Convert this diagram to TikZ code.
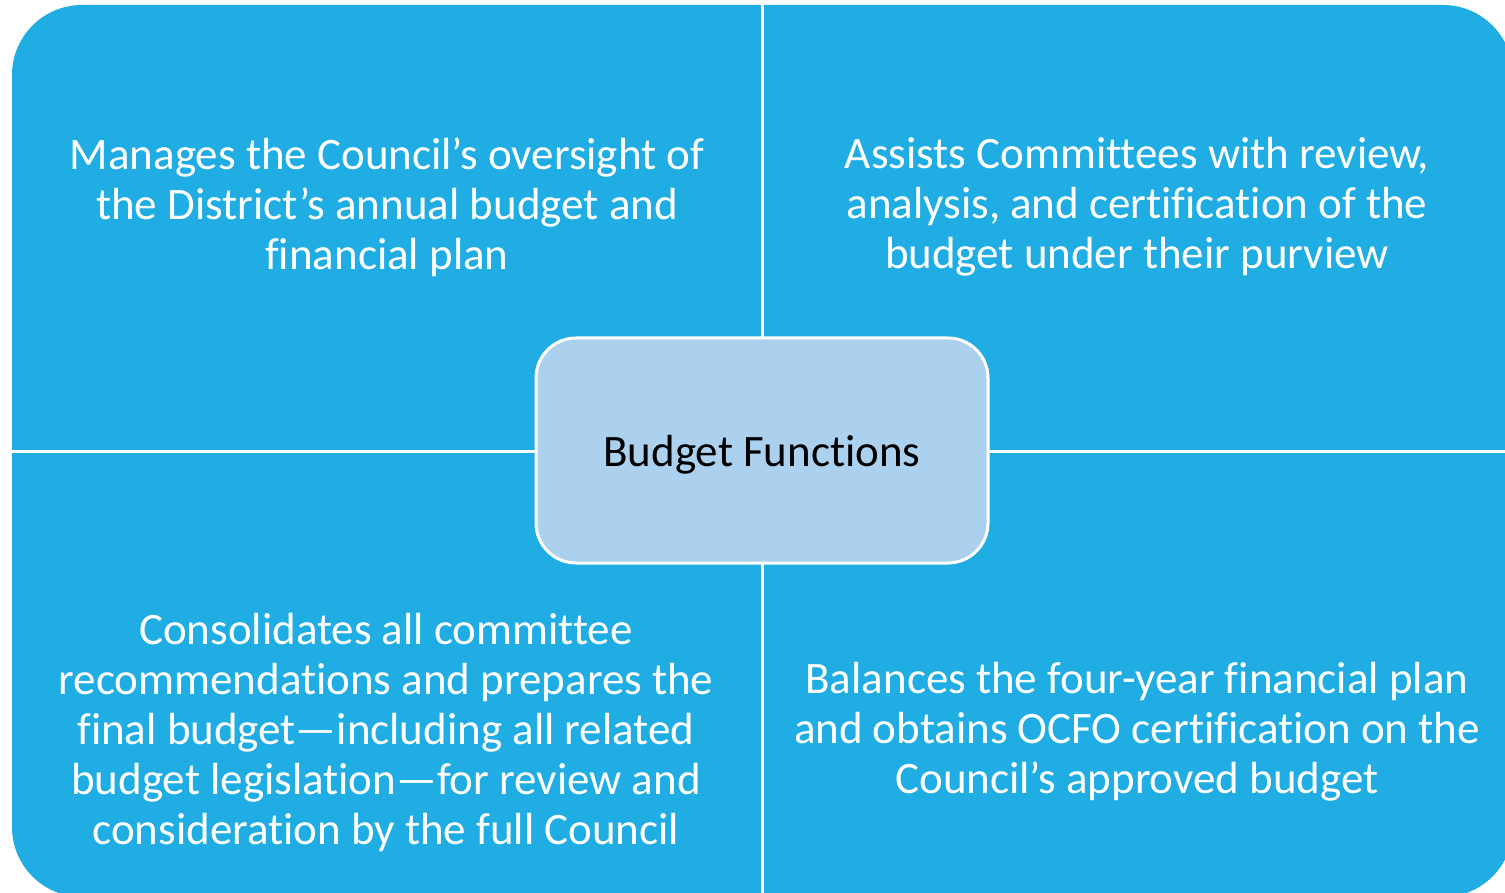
\documentclass[tikz,border=0pt]{standalone}
\usepackage{fontspec}
\setmainfont{Carlito}[Ligatures=NoCommon,RawFeature={-liga;-clig;-dlig;-rlig}]
\definecolor{quadblue}{HTML}{1FADE3}
\definecolor{hubblue}{HTML}{ABD1EE}
\begin{document}
\begin{tikzpicture}[x=1pt,y=-1pt,
  quadtext/.style={text=white,align=center,font=\fontsize{45}{50}\selectfont,inner sep=0pt},
  hub/.style={draw=white,line width=3pt,fill=hubblue,rounded corners=40pt,
    minimum width=452pt,minimum height=225pt,text=black,text depth=0pt,font=\fontsize{45}{50}\selectfont},
  divider/.style={draw=white,line width=3pt}]
\useasboundingbox (0,0) rectangle (1505,893);
\begin{scope}
\clip (0,0) rectangle (1505,893);
\fill[quadblue,rounded corners=70pt] (12,5) rectangle (1513,897);
\coordinate (vtop) at (762,0);
\coordinate (vbot) at (762,900);
\coordinate (hleft) at (0,451);
\coordinate (hright) at (1520,451);
\draw[divider] (vtop) -- (vbot);
\draw[divider] (hleft) -- (hright);
\end{scope}
\node[hub] (hub) at (762,450.5) {Budget Functions};
\node[quadtext] (tl) at (387,207) {Manages the Council’s oversight of\\the District’s annual budget and\\financial plan};
\node[quadtext] (tr) at (1137,207) {Assists Committees with review,\\analysis, and certification of the\\budget under their purview};
\node[quadtext] (bl) at (386,732) {Consolidates all committee\\recommendations and prepares the\\final budget—including all related\\budget legislation—for review and\\consideration by the full Council};
\node[quadtext] (br) at (1137,732) {Balances the four-year financial plan\\and obtains OCFO certification on the\\Council’s approved budget};
\end{tikzpicture}
\end{document}
